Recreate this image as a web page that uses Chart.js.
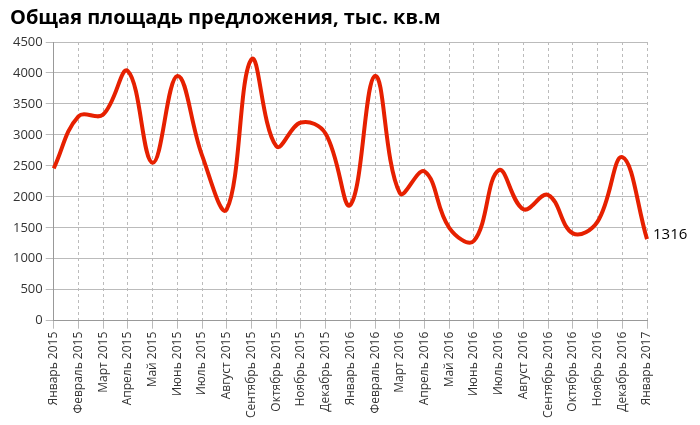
<!DOCTYPE html>
<html><head><meta charset="utf-8">
<script src="https://cdn.jsdelivr.net/npm/chart.js@4"></script>
<style>body{margin:0;background:#fff}#wrap{width:700px;height:425px;position:relative}</style>
</head><body><div id="wrap"><canvas id="c"></canvas></div>
<script>
const months = ['Январь 2015','Февраль 2015','Март 2015','Апрель 2015','Май 2015','Июнь 2015','Июль 2015','Август 2015','Сентябрь 2015','Октябрь 2015','Ноябрь 2015','Декабрь 2015','Январь 2016','Февраль 2016','Март 2016','Апрель 2016','Май 2016','Июнь 2016','Июль 2016','Август 2016','Сентябрь 2016','Октябрь 2016','Ноябрь 2016','Декабрь 2016','Январь 2017'];
const area = [2460,3300,3330,4030,2550,3950,2670,1800,4220,2820,3200,3020,1870,3950,2060,2410,1500,1290,2430,1800,2030,1410,1600,2640,1316];

// подпись последнего значения
const lastLabel = {
  id: 'lastLabel',
  afterDatasetsDraw(chart) {
    const pts = chart.getDatasetMeta(0).data;
    const p = pts[pts.length - 1];
    const ctx = chart.ctx;
    ctx.save();
    ctx.font = '15px "Open Sans"';
    ctx.fillStyle = '#000';
    ctx.textBaseline = 'middle';
    ctx.fillText(area[area.length - 1], p.x + 6, p.y - 4);
    ctx.restore();
  }
};

new Chart(document.getElementById('c'), {
  type: 'line',
  data: {
    labels: months,
    datasets: [{
      data: area,
      borderColor: '#e62000',
      borderWidth: 4,
      pointRadius: 0,
      tension: 0.4,
      fill: false
    }]
  },
  options: {
    responsive: true,
    maintainAspectRatio: false,
    animation: false,
    layout: { padding: { left: 10, right: 53, top: 4, bottom: 4 } },
    plugins: {
      legend: { display: false },
      title: {
        display: true, text: 'Общая площадь предложения, тыс. кв.м',
        align: 'start', color: '#000',
        font: { family: '"Open Sans"', size: 20, weight: 'bold' },
        padding: { top: 2, bottom: 12 }
      }
    },
    scales: {
      x: {
        offset: false,
        grid: { color: '#bbb' },
        border: { color: '#999', dash: [3, 3] },
        ticks: { color: '#333', minRotation: 90, maxRotation: 90, autoSkip: false,
                 font: { family: '"Open Sans"', size: 12 } }
      },
      y: {
        min: 0, max: 4500,
        grid: { color: '#bbb' },
        border: { color: '#999' },
        ticks: { stepSize: 500, color: '#333', font: { family: '"Open Sans"', size: 13 },
                 callback: v => String(v) }
      }
    }
  },
  plugins: [lastLabel]
});
</script></body></html>
